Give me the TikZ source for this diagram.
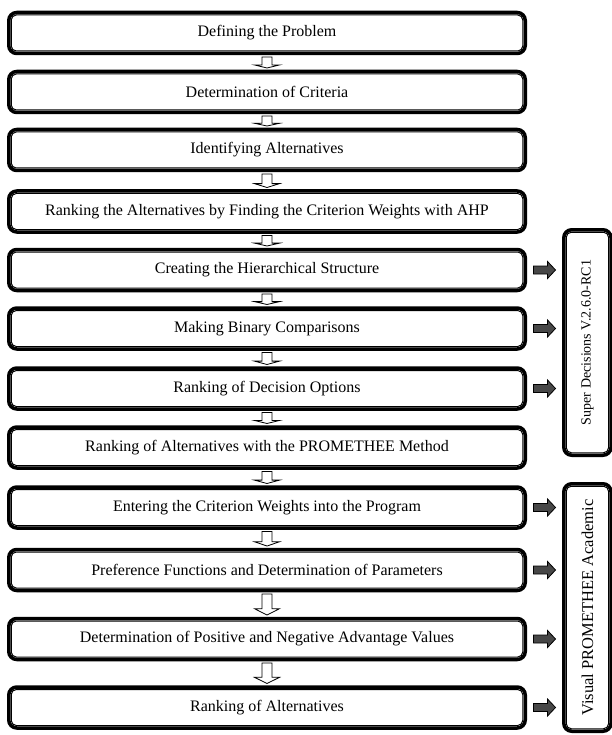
\documentclass[tikz,border=0pt]{standalone}
\usepackage{fontspec}
\setmainfont{Liberation Serif}
\usepackage{tikz}
\usetikzlibrary{calc}

\begin{document}
\begin{tikzpicture}[
  x=1pt, y=-1pt,
  every node/.style={font=\fontsize{16}{19}\selectfont},
  stepbox/.style={draw, line width=3.5pt, rounded corners=8pt, fill=white,
    minimum width=516.5, minimum height=41, inner sep=0pt, align=center},
  panel/.style={draw, line width=3.5pt, rounded corners=8pt, fill=white,
    minimum width=47.25, inner sep=0pt},
  innerline/.style={line width=1pt, rounded corners=5pt},
  downarrow/.style={draw=black, fill=white, line width=0.8pt, line join=miter},
  sidearrow/.style={draw=black, fill=black!72, line width=0.8pt, line join=miter},
]
\useasboundingbox (0,0) rectangle (612,735);

%% Arrow between two steps (white block, pointing down)
\newcommand{\downblock}[2]{%
  \draw[downarrow] ($(#1.south)+(-5pt,-1.75pt)$)
    -- ($(#1.south)!0.67!(#2.north)+(-5pt,0)$) -- ++(-7.5pt,0)
    -- ($(#2.north)+(0,1.75pt)$)
    -- ($(#1.south)!0.67!(#2.north)+(12.5pt,0)$) -- ++(-7.5pt,0)
    -- ($(#1.south)+(5pt,-1.75pt)$) -- cycle;}

%% Arrow from a step to a software panel (dark block, pointing right)
\newcommand{\sideblock}[2]{%
  \draw[sidearrow] ($(#1.east)+(6.5pt,4pt)$)
    -- ($(#2.west |- #1.east)+(-14.5pt,4pt)$) -- ++(0,4.5pt)
    -- ($(#2.west |- #1.east)+(-6.5pt,0)$)
    -- ($(#2.west |- #1.east)+(-14.5pt,-8.5pt)$) -- ++(0,4.5pt)
    -- ($(#1.east)+(6.5pt,-4pt)$) -- cycle;}

%% Steps of the procedure
\foreach \i/\yy/\txt in {
  1/33/Defining the Problem,
  2/92/Determination of Criteria,
  3/150/Identifying Alternatives,
  4/211.5/Ranking the Alternatives by Finding the Criterion Weights with AHP,
  5/270/Creating the Hierarchical Structure,
  6/328.5/Making Binary Comparisons,
  7/388.5/Ranking of Decision Options,
  8/447.5/Ranking of Alternatives with the PROMETHEE Method,
  9/507.5/Entering the Criterion Weights into the Program,
  10/570/Preference Functions and Determination of Parameters,
  11/639/Determination of Positive and Negative Advantage Values,
  12/707.5/Ranking of Alternatives} {
  \node[stepbox] (b\i) at (267, \yy) {\txt};
  \draw[innerline] ([shift={(4.25pt,-4.25pt)}]b\i.north west)
    rectangle ([shift={(-4.25pt,4.25pt)}]b\i.south east);
}

%% Software panels
\node[panel, minimum height=225.5] (sd) at (587.4, 342.5)
  {\fontsize{14}{16}\selectfont\rotatebox{90}{Super Decisions V.2.6.0-RC1}};
\node[panel, minimum height=247.5] (vp) at (587.4, 607.5)
  {\fontsize{16.5}{19}\selectfont\rotatebox{90}{Visual PROMETHEE Academic}};
\foreach \p in {sd,vp} {
  \draw[innerline] ([shift={(4.25pt,-4.25pt)}]\p.north west)
    rectangle ([shift={(-4.25pt,4.25pt)}]\p.south east);
}

%% Connectors
\foreach \i in {1,...,11} {
  \pgfmathtruncatemacro{\j}{\i+1}
  \downblock{b\i}{b\j}
}
\foreach \i in {5,6,7} {\sideblock{b\i}{sd}}
\foreach \i in {9,...,12} {\sideblock{b\i}{vp}}

\end{tikzpicture}
\end{document}
